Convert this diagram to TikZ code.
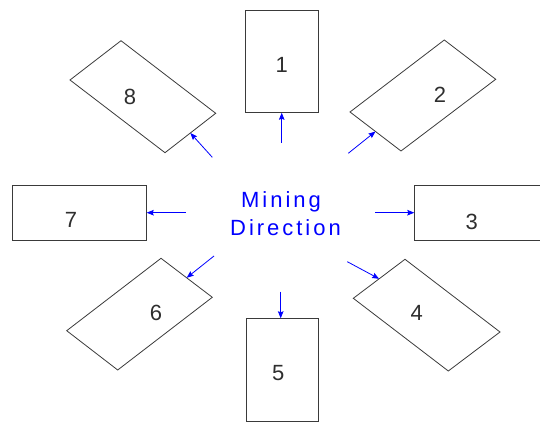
\documentclass[tikz,border=0pt]{standalone}
\usepackage{fontspec}
\setmainfont{Liberation Sans}
\usetikzlibrary{arrows.meta,calc}
\definecolor{boxline}{HTML}{3A3A3A}
\definecolor{numtext}{HTML}{2E2E2E}
\definecolor{dirblue}{RGB}{0,0,255}

\tikzset{
  panel/.style={draw=boxline, line width=0.8pt, inner sep=0pt, outer sep=0pt},
  num/.style={text=numtext, font=\fontsize{22}{26}\selectfont, inner sep=0pt},
  dirarrow/.style={draw=dirblue, line width=0.8pt,
    -{Stealth[length=7pt,width=5.5pt,inset=1pt]}},
}

\begin{document}
\begin{tikzpicture}[x=1pt,y=1pt]
\useasboundingbox (0,0) rectangle (540,422);
\clip (0,0) rectangle (540,422);

% upright panels
\node[panel, minimum width=72.6pt, minimum height=102.7pt] (b1) at (282,360.6) {};
\node[panel, minimum width=72.3pt, minimum height=103.4pt] (b5) at (282.2,52) {};
\node[panel, minimum width=134pt, minimum height=55.7pt] (b7) at (79.7,209.1) {};
\node[panel, minimum width=134pt, minimum height=55.7pt] (b3) at (481.3,209.1) {};

% slanted panels (parallelograms), corners: left, top, right, bottom
\coordinate (b2l) at (350,310);   \coordinate (b2t) at (444.3,382);
\coordinate (b2r) at (495.7,342.7); \coordinate (b2b) at (401,271);
\coordinate (b8l) at (70,342);    \coordinate (b8t) at (121,381.3);
\coordinate (b8r) at (215.7,308.7); \coordinate (b8b) at (165,269.3);
\coordinate (b4l) at (353.3,123.7); \coordinate (b4t) at (405,162.7);
\coordinate (b4r) at (500,90);    \coordinate (b4b) at (448.3,51);
\coordinate (b6l) at (66.7,91.3); \coordinate (b6t) at (161,163.7);
\coordinate (b6r) at (212.3,124.7); \coordinate (b6b) at (117.7,52);

\draw[panel] (b2l) -- (b2t) -- (b2r) -- (b2b) -- cycle;
\draw[panel] (b8l) -- (b8t) -- (b8r) -- (b8b) -- cycle;
\draw[panel] (b4l) -- (b4t) -- (b4r) -- (b4b) -- cycle;
\draw[panel] (b6l) -- (b6t) -- (b6r) -- (b6b) -- cycle;

% midpoints of the short sides facing the centre
\coordinate (b2in) at ($(b2l)!0.5!(b2b)$);
\coordinate (b8in) at ($(b8r)!0.5!(b8b)$);
\coordinate (b4in) at ($(b4l)!0.5!(b4t)$);
\coordinate (b6in) at ($(b6t)!0.5!(b6r)$);

% panel numbers
\node[num] (n1) at (281.7,357) {1};
\node[num] (n2) at (440,327.5) {2};
\node[num] (n3) at (471.7,200.3) {3};
\node[num] (n4) at (416.7,108.7) {4};
\node[num] (n5) at (278.3,48.7) {5};
\node[num] (n6) at (156,109.3) {6};
\node[num] (n7) at (71,202) {7};
\node[num] (n8) at (130,325.3) {8};

% central label
\node[text=dirblue, align=center, inner sep=0pt,
      font=\fontsize{22}{28.3}\selectfont\addfontfeature{LetterSpace=13.5}]
  (dir) at (285.5,208.5) {Mining\kern9pt\\Direction};

% arrow start points around the label
\coordinate (s1) at (281.7,279);
\coordinate (s2) at (348.3,268.7);
\coordinate (s3) at (375,209.3);
\coordinate (s4) at (347.3,160.3);
\coordinate (s5) at (280.7,130.3);
\coordinate (s6) at (214,166);
\coordinate (s7) at (185.7,209.3);
\coordinate (s8) at (212.3,264.7);

\draw[dirarrow] (s1) -- (s1 |- b1.south);
\draw[dirarrow] (s2) -- (b2in);
\draw[dirarrow] (s3) -- (s3 -| b3.west);
\draw[dirarrow] (s4) -- (b4in);
\draw[dirarrow] (s5) -- (s5 |- b5.north);
\draw[dirarrow] (s6) -- (b6in);
\draw[dirarrow] (s7) -- (s7 -| b7.east);
\draw[dirarrow] (s8) -- (b8in);
\end{tikzpicture}
\end{document}
